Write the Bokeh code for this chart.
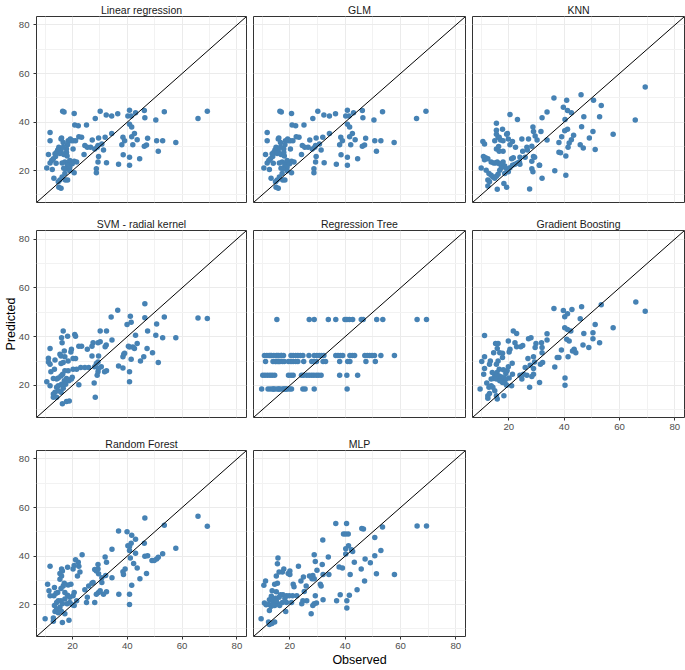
from bokeh.plotting import figure
from bokeh.layouts import gridplot
from bokeh.models import Range1d, FixedTicker, Slope
from bokeh.embed import file_html
from bokeh.resources import INLINE

# ---------------- data (observed, predicted) ----------------
lr_points = [
    (69.2, 44.5), (65.8, 41.5), (57.7, 31.6), (53.5, 44.2), (52.9, 32.3), (50.7, 32.3), (51.3, 28.0),
    (50.4, 40.8), (47.4, 33.3), (47.0, 30.5), (46.2, 30.0), (46.4, 41.8), (46.2, 44.8), (43.6, 32.7),
    (42.6, 35.3), (43.0, 43.8), (41.6, 38.0), (41.6, 33.9), (42.0, 30.7), (40.8, 44.9), (40.2, 42.5),
    (41.4, 42.5), (40.8, 39.1), (40.8, 25.5), (40.8, 22.2), (44.5, 24.9), (39.0, 32.3), (38.0, 30.6),
    (38.4, 33.7), (38.5, 26.5), (36.5, 43.4), (36.8, 22.6), (34.3, 42.5), (34.3, 35.3), (32.3, 42.9),
    (31.9, 33.7), (32.4, 23.2), (31.3, 28.5), (30.1, 44.5),
    (28.7, 20.8), (28.7, 19.1), (29.5, 33.4), (29.0, 29.6), (29.5, 25.8), (29.3, 23.5), (30.7, 31.0),
    (29.3, 30.3), (28.1, 28.9), (28.3, 41.5), (27.2, 32.6), (26.6, 29.6), (25.4, 29.6), (25.1, 38.8),
    (24.5, 30.3), (24.2, 26.6), (23.3, 33.7), (22.3, 33.9), (22.1, 38.5), (20.8, 38.8), (20.6, 43.5),
    (21.1, 32.3), (20.2, 32.3), (20.2, 28.9), (20.6, 23.8), (20.6, 19.1), (21.5, 23.5), (19.4, 32.3),
    (18.4, 32.3), (18.2, 30.7), (17.8, 28.9), (16.4, 44.5), (16.9, 44.1), (16.0, 33.4), (15.8, 33.0),
    (15.0, 29.6), (15.8, 28.0), (16.6, 29.6), (14.6, 28.5), (14.2, 27.6), (13.6, 26.9), (13.8, 25.8),
    (13.0, 24.9), (12.4, 24.2), (11.2, 26.6), (11.8, 35.7), (11.8, 32.3), (11.8, 23.1), (10.6, 21.1),
    (12.6, 20.4), (13.2, 16.8), (15.0, 13.1), (15.8, 12.7), (15.4, 16.1), (16.2, 17.4), (17.2, 18.8),
    (17.4, 16.1), (18.2, 16.1), (16.2, 23.1), (17.2, 23.5), (18.4, 23.1), (19.0, 24.2), (18.2, 22.2),
    (19.0, 21.5), (19.9, 22.8), (17.6, 20.8), (19.0, 19.9), (14.8, 15.4),
    (15.4, 27.0), (16.8, 26.6), (17.8, 27.5), (18.0, 26.0), (16.6, 31.6), (19.2, 33.0), (14.0, 23.0),
    (16.8, 21.0),
]

# GLM predictions look identical to the linear regression ones in the reference
glm_points = list(lr_points)

knn_points = [
    (69.3, 54.4), (65.7, 40.8), (57.7, 35.0), (53.4, 46.8), (52.8, 42.2), (51.2, 28.7), (50.4, 36.1),
    (50.6, 49.0), (49.1, 33.4), (47.1, 42.2), (46.3, 38.1), (46.1, 51.3), (45.8, 30.7), (46.9, 29.3),
    (43.4, 34.6), (42.6, 32.7), (42.6, 43.8), (41.2, 44.8), (39.7, 46.1), (40.9, 49.0), (40.3, 41.1),
    (40.2, 36.4), (41.2, 37.0), (41.8, 31.4), (41.4, 29.6), (40.6, 26.0), (40.6, 18.1), (39.1, 33.9),
    (38.1, 31.6), (38.1, 27.6), (38.7, 27.4), (36.6, 19.9), (36.3, 49.9), (33.8, 44.1), (33.8, 32.6),
    (32.0, 41.8), (31.6, 36.1), (31.1, 22.2), (32.0, 16.8), (30.2, 32.6), (29.5, 34.3), (28.9, 36.1),
    (28.7, 38.0), (27.1, 33.0), (28.3, 30.0), (28.9, 25.8), (29.3, 25.5), (28.3, 23.9), (28.3, 20.8),
    (28.7, 19.5), (31.0, 22.2), (27.5, 12.4), (26.5, 29.6), (26.7, 28.5), (25.0, 28.0), (24.7, 33.0),
    (25.9, 25.5), (24.0, 22.6), (23.8, 23.5), (21.6, 25.3), (22.4, 29.6), (21.3, 32.0), (20.4, 30.7),
    (19.8, 33.0), (19.5, 35.3), (20.4, 43.1), (23.1, 41.1), (17.7, 37.0), (19.2, 35.0), (16.1, 33.7),
    (15.5, 35.0), (15.5, 36.6), (15.5, 39.5), (16.5, 33.7), (17.0, 32.6), (14.9, 32.3), (17.9, 32.3),
    (10.6, 32.0), (11.2, 31.0), (15.5, 28.9), (16.3, 29.9), (17.9, 28.0), (16.5, 28.0), (10.8, 25.8),
    (11.6, 25.3), (12.4, 24.9), (11.2, 24.5), (13.6, 23.5), (14.5, 23.1), (15.2, 23.1), (15.8, 23.5),
    (16.5, 22.8), (17.3, 22.8), (17.9, 23.5), (18.5, 21.9), (10.0, 21.1), (11.8, 20.1), (12.8, 18.8),
    (13.6, 18.1), (14.2, 17.4), (14.9, 16.8), (15.5, 17.7), (16.1, 18.5), (16.7, 20.1), (17.3, 21.2),
    (19.2, 20.8), (20.4, 21.2), (21.3, 22.2), (19.8, 19.5), (18.5, 18.8), (12.4, 16.1), (13.0, 15.4),
    (12.4, 13.6), (15.8, 12.3), (18.2, 14.7), (19.2, 13.1), (22.2, 22.6), (23.1, 23.1), (24.0, 25.5),
    (21.0, 24.9),
]

svm_points = [
    (69.2, 47.4), (65.8, 47.6), (57.7, 39.5), (53.5, 48.0), (52.9, 39.5), (51.3, 29.4), (50.7, 45.2),
    (50.4, 40.6), (49.2, 33.4), (47.2, 35.1), (47.4, 42.3), (46.4, 53.5), (46.4, 47.7), (46.0, 31.7),
    (44.8, 30.0), (43.6, 37.2), (43.0, 40.6), (42.6, 35.1), (42.0, 35.7), (41.4, 30.7), (41.4, 45.9),
    (41.1, 48.4), (40.8, 35.7), (39.9, 45.0), (40.4, 36.1), (40.8, 25.6), (40.8, 21.5), (39.0, 33.2),
    (38.4, 31.7), (38.7, 32.8), (38.4, 27.1), (36.8, 28.0), (36.5, 50.8), (34.1, 48.0), (34.4, 38.6),
    (32.4, 42.3), (32.3, 36.6), (31.9, 35.9), (32.4, 26.0), (31.7, 25.6), (30.1, 42.3), (30.1, 37.9),
    (29.3, 37.5), (29.5, 32.1), (29.3, 29.6), (29.5, 26.9), (29.3, 25.6), (29.0, 24.2), (30.5, 27.7),
    (28.7, 29.0), (28.1, 27.7), (28.3, 15.1), (27.9, 21.0), (27.5, 37.5), (27.1, 36.1), (27.1, 32.1),
    (25.9, 27.3), (24.5, 27.3), (25.4, 34.8), (23.3, 36.1), (22.3, 36.1), (23.0, 27.3), (21.5, 26.6),
    (21.1, 31.0), (20.2, 31.0), (20.8, 40.9), (21.1, 40.2), (20.2, 26.6), (19.9, 23.3), (19.6, 22.6),
    (22.3, 20.3), (19.6, 34.8), (19.4, 33.7), (18.2, 40.2), (16.6, 42.3), (16.0, 39.5), (16.2, 37.5),
    (17.0, 34.1), (15.8, 32.1), (17.2, 31.7), (18.4, 30.0), (16.6, 29.4), (15.8, 29.0), (18.4, 26.0),
    (17.2, 26.0), (16.4, 24.6), (15.8, 23.9), (14.8, 23.0), (14.2, 22.6), (13.0, 22.8), (17.8, 22.8),
    (18.7, 21.9), (17.0, 21.9), (16.0, 20.5), (14.8, 19.9), (14.2, 19.2), (14.8, 17.8), (13.6, 17.2),
    (13.0, 16.5), (13.0, 15.1), (14.2, 15.1), (15.8, 17.2), (16.6, 18.8), (17.5, 20.5), (16.3, 12.5),
    (17.8, 13.4), (18.8, 13.6), (11.8, 35.1), (11.2, 31.1), (11.2, 29.6), (11.8, 28.7), (12.1, 25.6),
    (13.4, 26.6), (13.6, 30.4), (10.6, 21.5), (11.8, 19.9), (15.4, 32.8),
]

# Regression tree: five predicted levels, observed values at each level
tree_levels = [47.0, 32.3, 29.8, 24.2, 18.5]
tree_obs_by_level = [
    [15.3, 27.0, 28.8, 33.9, 36.6, 39.9, 40.6, 41.5, 42.7, 45.8, 46.5, 51.4, 53.6, 66.0, 69.4],
    [10.8, 11.7, 12.5, 13.0, 13.4, 14.2, 15.1, 15.5, 16.0, 16.8, 17.0, 17.7, 20.4, 21.2, 22.1, 22.9,
     23.8, 24.7, 26.9, 28.8, 29.7, 30.6, 31.4, 32.3, 36.6, 37.4, 38.3, 39.1, 41.7, 42.6, 43.4, 47.1,
     48.0, 48.8, 49.7, 50.6, 52.9, 57.8],
    [11.2, 13.9, 14.7, 15.0, 15.6, 16.0, 16.4, 17.3, 18.0, 19.5, 20.4, 21.2, 22.1, 22.9, 25.0, 27.9,
     28.7, 29.6, 32.0, 32.9, 38.0, 40.9, 41.7, 47.5, 50.9],
    [10.2, 11.0, 11.9, 12.8, 13.6, 14.5, 19.5, 20.4, 21.2, 24.2, 25.0, 26.1, 27.0, 27.9, 28.7, 29.6,
     30.4, 31.3, 38.0, 40.6, 44.5],
    [9.8, 12.1, 13.0, 13.9, 14.0, 14.7, 15.6, 16.0, 16.4, 17.3, 17.8, 18.2, 18.6, 19.0, 19.9, 20.6,
     24.7, 25.5, 28.8, 40.7],
]

gb_points = [
    (69.3, 50.4), (65.9, 54.2), (57.7, 43.6), (53.4, 53.1), (52.8, 37.5), (51.2, 45.0), (50.4, 41.6),
    (50.4, 39.1), (48.9, 35.5), (46.8, 36.6), (47.1, 41.3), (46.3, 52.2), (45.8, 47.3), (43.6, 34.8),
    (43.0, 34.1), (44.2, 33.4), (41.2, 42.9), (41.8, 38.2), (40.9, 38.9), (40.2, 43.6), (41.2, 49.4),
    (40.2, 48.1), (39.7, 50.7), (42.8, 51.1), (42.4, 42.3), (41.4, 31.8), (40.3, 23.0), (40.3, 20.1),
    (39.0, 34.5), (38.1, 31.4), (37.5, 31.4), (36.6, 27.6), (36.3, 51.5), (33.8, 41.2), (33.8, 38.6),
    (31.8, 37.5), (32.0, 35.5), (32.0, 33.4), (31.1, 21.2), (32.2, 29.4), (31.4, 28.7), (29.8, 37.2),
    (29.5, 35.5), (28.9, 31.8), (29.3, 29.6), (28.9, 26.9), (28.9, 24.6), (27.5, 19.2), (28.3, 23.7),
    (28.0, 39.5), (27.1, 39.1), (26.9, 31.0), (26.5, 24.2), (25.3, 24.6), (24.7, 22.6), (24.0, 24.2),
    (25.0, 36.4), (22.8, 35.9), (22.2, 37.5), (21.6, 42.3), (22.8, 41.3), (19.8, 38.2), (20.4, 34.8),
    (20.1, 33.7), (21.0, 19.9), (21.2, 29.1), (19.8, 27.7), (19.4, 26.0), (21.3, 24.6), (20.1, 23.0),
    (18.9, 24.9), (17.7, 33.2), (17.7, 31.4), (16.7, 33.4), (15.8, 35.1), (15.2, 37.2), (16.1, 37.2),
    (14.5, 33.4), (16.1, 30.0), (15.5, 28.7), (16.5, 26.6), (18.0, 26.4), (15.7, 25.3), (14.9, 24.3),
    (14.0, 25.3), (16.5, 23.9), (17.3, 23.5), (18.2, 23.0), (18.9, 22.6), (14.5, 22.8), (13.6, 22.6),
    (15.5, 22.6), (16.7, 21.9), (17.7, 21.2), (18.6, 21.0), (11.2, 40.5), (11.2, 31.8), (10.2, 29.8),
    (11.2, 26.9), (13.3, 30.0), (13.0, 28.7), (10.9, 24.6), (12.0, 21.0), (13.6, 19.9), (12.8, 19.2),
    (14.2, 19.2), (14.9, 17.8), (13.0, 16.7), (12.4, 15.8), (12.4, 14.7), (9.6, 18.5), (15.5, 15.8),
    (15.8, 14.4), (18.2, 15.8), (19.2, 20.1), (27.7, 28.3), (25.9, 27.3), (24.3, 35.9),
]

rf_points = [
    (69.2, 52.3), (65.8, 56.4), (57.7, 43.2), (53.5, 52.7), (52.9, 40.9), (51.3, 39.5), (50.7, 38.8),
    (49.8, 38.2), (49.0, 38.2), (47.4, 40.1), (46.4, 39.9), (46.4, 55.7), (46.2, 45.3), (47.0, 32.8),
    (44.6, 30.7), (43.6, 35.1), (43.0, 46.9), (43.0, 41.2), (42.3, 36.9), (41.6, 48.6), (41.4, 45.3),
    (40.8, 43.9), (40.2, 44.2), (39.9, 50.0), (40.8, 42.3), (41.1, 39.2), (41.6, 28.0), (40.8, 24.3),
    (40.8, 20.0), (39.2, 34.7), (38.4, 33.5), (38.6, 32.4), (36.8, 50.3), (36.9, 24.3), (34.4, 42.8),
    (34.4, 31.1), (31.9, 39.6), (32.4, 37.4), (32.1, 32.0), (32.4, 25.3), (31.3, 24.3), (30.7, 31.1),
    (30.7, 29.1), (30.1, 25.7), (29.5, 25.0), (29.3, 36.5), (29.3, 34.7), (28.7, 33.8), (29.5, 32.7),
    (28.7, 24.3), (28.1, 34.5), (28.1, 20.9), (27.5, 29.1), (27.1, 28.8), (25.9, 27.7), (25.4, 23.0),
    (25.1, 20.9), (24.5, 26.1), (23.5, 40.5), (22.7, 33.4), (22.3, 35.8), (22.1, 37.4), (21.1, 38.5),
    (21.8, 31.8), (20.6, 36.1), (20.2, 34.7), (20.6, 25.0), (20.2, 23.6), (21.5, 21.6), (20.6, 19.6),
    (19.4, 28.4), (18.2, 35.4), (18.4, 28.1), (16.0, 34.7), (16.3, 33.8), (15.4, 32.8), (16.0, 31.8),
    (15.4, 30.4), (17.0, 28.8), (16.6, 27.7), (15.8, 26.6), (14.6, 25.0), (14.0, 24.7), (13.2, 23.6),
    (11.8, 23.6), (11.4, 25.7), (10.9, 28.4), (11.8, 35.8), (13.4, 27.0), (17.2, 25.0), (18.2, 23.9),
    (19.0, 23.0), (17.2, 22.3), (15.8, 21.6), (14.8, 21.6), (16.3, 20.3), (18.0, 20.3), (19.0, 20.9),
    (19.9, 19.9), (15.4, 18.9), (14.2, 18.2), (13.6, 17.2), (14.8, 16.6), (16.0, 17.2), (13.4, 19.6),
    (10.0, 14.2), (13.0, 14.5), (13.0, 13.1), (16.3, 12.6), (18.7, 13.5), (17.2, 16.2), (14.2, 20.9),
]

mlp_points = [
    (69.4, 52.4), (66.0, 52.4), (57.8, 32.4), (53.5, 52.0), (52.9, 42.3), (51.3, 32.7), (50.7, 47.6),
    (50.7, 40.1), (49.1, 37.2), (47.2, 38.8), (46.6, 51.1), (46.0, 51.4), (45.8, 34.7), (47.0, 29.7),
    (44.3, 26.1), (43.3, 37.4), (42.7, 41.9), (42.3, 42.6), (41.8, 32.4), (41.2, 44.2), (41.1, 49.1),
    (40.2, 49.1), (39.4, 49.1), (40.5, 53.4), (36.6, 53.4), (40.2, 43.0), (40.2, 40.8), (39.0, 35.1),
    (37.8, 35.5), (38.2, 24.1), (36.9, 21.6), (40.6, 21.6), (40.6, 18.6), (41.5, 23.9), (33.9, 39.6),
    (31.9, 46.6), (31.7, 36.5), (34.1, 32.4), (32.0, 32.4), (31.0, 28.4), (31.3, 27.7), (32.0, 22.0),
    (28.8, 40.5), (29.2, 37.8), (29.8, 34.1), (28.3, 32.0), (28.0, 30.7), (27.1, 31.8), (28.8, 30.7),
    (29.2, 23.6), (28.8, 20.3), (28.3, 19.6), (29.6, 20.7), (27.7, 16.2), (26.1, 21.6), (24.7, 21.6),
    (24.3, 20.3), (25.2, 25.4), (25.9, 27.7), (24.9, 31.4), (24.0, 29.7), (23.1, 35.8), (21.2, 28.4),
    (21.5, 27.4), (22.5, 23.6), (21.0, 23.6), (20.0, 33.8), (20.0, 32.4), (19.4, 32.8), (20.6, 20.9),
    (19.8, 23.6), (18.8, 23.6), (18.5, 17.2), (17.8, 34.7), (17.3, 33.4), (15.7, 39.2), (15.5, 36.8),
    (16.1, 33.4), (15.1, 31.8), (15.5, 28.8), (14.5, 28.4), (11.2, 29.7), (10.6, 28.0), (13.6, 25.7),
    (15.1, 25.3), (16.6, 24.1), (17.5, 24.1), (18.2, 22.6), (17.3, 20.9), (16.1, 23.0), (14.8, 22.6),
    (13.3, 23.4), (12.4, 20.0), (10.8, 20.7), (11.4, 19.9), (13.6, 21.9), (12.6, 22.0), (15.7, 20.3),
    (14.5, 19.6), (13.3, 19.3), (12.6, 17.6), (13.9, 20.3), (16.3, 19.6), (18.8, 20.9), (15.1, 21.6),
    (9.6, 14.2), (12.6, 11.8), (13.5, 12.2), (14.5, 12.8), (12.3, 12.8),
]

panel_titles = ["Linear regression", "GLM", "KNN", "SVM - radial kernel", "Regression Tree",
                "Gradient Boosting", "Random Forest", "MLP"]
major_ticks = [20, 40, 60, 80]
minor_ticks = [10, 30, 50, 70]
axis_limits = (6.85, 83.5)
x_title = "Observed"
y_title = "Predicted"

tree_points = [(x, lvl) for lvl, xs in zip(tree_levels, tree_obs_by_level) for x in xs]
panel_points = [lr_points, glm_points, knn_points, svm_points, tree_points, gb_points, rf_points, mlp_points]

# ---------------- styling / layout ----------------
FONT = "Liberation Sans"
POINT_COLOR = "#4682B4"
FRAME_W = 212
FRAME_H = 187
ROW_TOP = [15, 27, 15]
ROW_BOTTOM = [1, 17, 34]


def make_panel(idx):
    row, col = divmod(idx, 3)
    show_y = col == 0
    show_x = idx in (5, 6, 7)

    left = 34 if col == 0 else 6
    right = 1
    top = ROW_TOP[row]
    bottom = ROW_BOTTOM[row]

    p = figure(width=left + FRAME_W + right, height=top + FRAME_H + bottom,
               x_range=Range1d(*axis_limits), y_range=Range1d(*axis_limits),
               output_backend="svg", toolbar_location=None,
               min_border_left=left, min_border_right=right,
               min_border_top=top, min_border_bottom=bottom,
               title=panel_titles[idx])
    p.background_fill_color = "white"
    p.border_fill_color = "white"
    p.outline_line_color = "#333333"
    p.outline_line_width = 1

    p.title.align = "center"
    p.title.text_font = FONT
    p.title.text_font_size = "10.5px"
    p.title.text_font_style = "normal"
    p.title.text_color = "#1A1A1A"
    p.title.standoff = 2

    ticker = FixedTicker(ticks=major_ticks, minor_ticks=minor_ticks)
    for ax in (p.xaxis[0], p.yaxis[0]):
        ax.ticker = ticker
        ax.axis_line_color = None
        ax.major_tick_line_color = "#333333"
        ax.major_tick_in = 0
        ax.major_tick_out = 3
        ax.minor_tick_line_color = None
        ax.major_label_text_font = FONT
        ax.major_label_text_font_size = "9.6px"
        ax.major_label_text_color = "#4D4D4D"
        ax.axis_label_text_font = FONT
        ax.axis_label_text_font_size = "12.5px"
        ax.axis_label_text_font_style = "normal"
        ax.axis_label_text_color = "black"
    p.xaxis[0].major_label_standoff = 2
    p.xaxis[0].axis_label_standoff = 1
    p.yaxis[0].major_label_standoff = 3
    p.yaxis[0].axis_label_standoff = -2
    p.xaxis.visible = show_x
    p.yaxis.visible = show_y
    if idx == 3:
        p.yaxis[0].axis_label = y_title
    if idx == 7:
        p.xaxis[0].axis_label = x_title

    for g in (p.xgrid[0], p.ygrid[0]):
        g.ticker = ticker
        g.grid_line_color = "#EBEBEB"
        g.grid_line_width = 1
        g.minor_grid_line_color = "#F2F2F2"
        g.minor_grid_line_width = 1

    xs = [pt[0] for pt in panel_points[idx]]
    ys = [pt[1] for pt in panel_points[idx]]
    p.scatter(xs, ys, size=5.5, fill_color=POINT_COLOR, line_color=None)
    p.add_layout(Slope(gradient=1, y_intercept=0, line_color="black", line_width=1))
    return p


panels = [make_panel(i) for i in range(8)]
grid = gridplot([panels[0:3], panels[3:6], [panels[6], panels[7], None]], toolbar_location=None)

open("out.html", "w").write(file_html(grid, INLINE))
